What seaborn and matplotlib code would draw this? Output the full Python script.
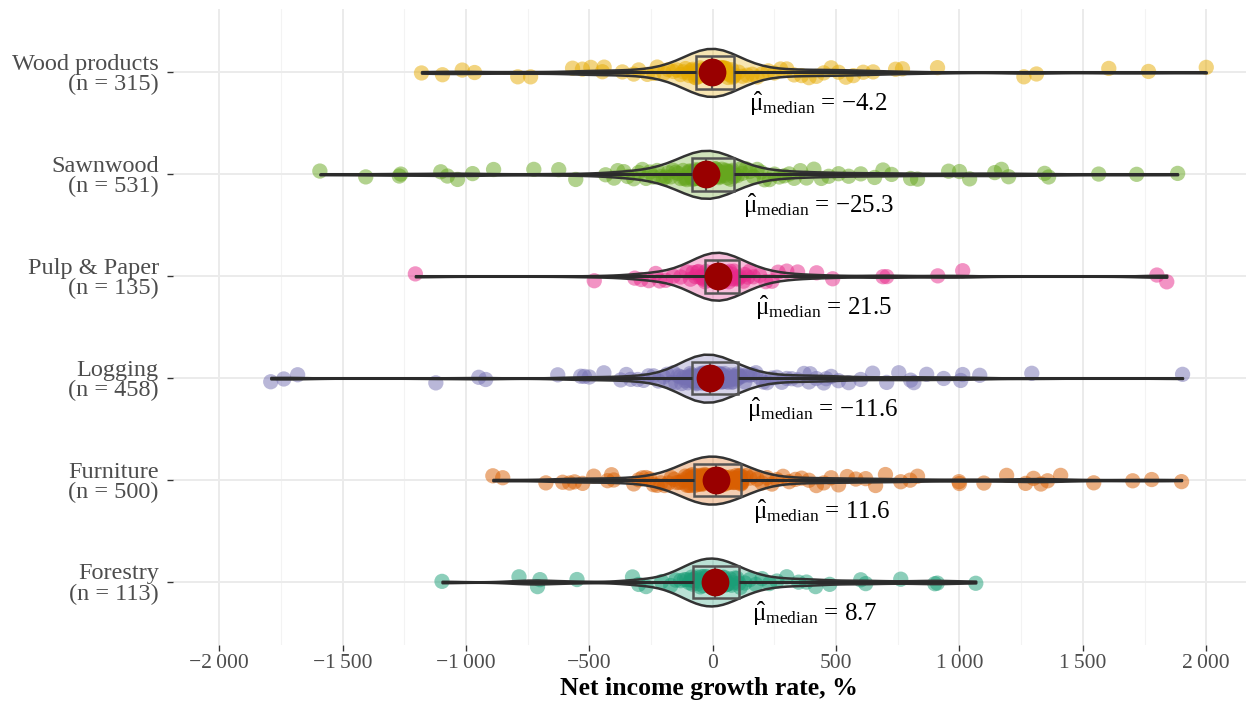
import numpy as np
import pandas as pd
import seaborn as sns
import matplotlib
matplotlib.use("Agg")
import matplotlib.pyplot as plt
from matplotlib.colors import to_rgba
from matplotlib.ticker import FuncFormatter, MultipleLocator

# ---------------- data ----------------
categories = ["Wood products", "Sawnwood", "Pulp & Paper", "Logging", "Furniture", "Forestry"]
n_labels = [315, 531, 135, 458, 500, 113]
medians = [-4.2, -25.3, 21.5, -11.6, 11.6, 8.7]
colors = ["#E6AB02", "#66A61E", "#E7298A", "#7570B3", "#D95F02", "#1B9E77"]

wood = [-1180, -1095, -1015, -965, -790, -738, -568, -528, -494, -447, -440, -366, -320, -300, -265,
        -238, -225, -197, -180, -160, -145, -130, -120, -110, -100, -95, -88, -80, -75, -72,
        -68, -64, -60, -57, -54, -51, -48, -45, -42, -39, -36, -33, -30, -27, -24, -21, -18, -15,
        -13, -11, -9, -8, -7, -6.5, -6, -5.5, -5, -4.8, -4.5, -4.3,
        -4.1, -3.5, -2, 0, 2, 4, 7, 10, 13, 16, 19, 22, 25, 28, 31, 34, 37, 40, 43, 46, 50, 54,
        58, 62, 66, 70, 74, 78, 81, 84,
        88, 105, 120, 140, 160, 180, 200, 225, 250, 275, 300, 330, 360, 390, 420, 450, 480, 510,
        540, 570, 610, 650, 741, 769, 911, 1261, 1312, 1605, 1766, 2000]

sawnwood = [-1592, -1406, -1270, -1264, -1102, -1075, -1034, -973, -888, -725, -624, -555, -434,
            -400, -385, -360, -345, -320, -300, -285, -270, -255, -240, -225, -210, -200, -190,
            -180, -170, -160, -150, -140, -130, -120, -115, -110, -105, -100, -95, -90,
            -84, -82, -80, -78, -76, -74, -72, -70, -68, -66, -64, -62, -60, -58, -56, -54, -52,
            -50, -48, -46, -44, -42, -40, -39, -38, -37, -36, -35, -34, -33, -32, -31, -30, -29,
            -28, -27.5, -27, -26.5, -26, -25.5,
            -25.1, -24, -22, -20, -18, -16, -14, -12, -10, -8, -6, -4, -2, 0, 2, 4, 6, 8, 10, 13,
            16, 19, 22, 25, 28, 31, 34, 37, 40, 44, 48, 52, 56, 60, 64, 68, 72, 76, 80, 84,
            90, 100, 110, 120, 135, 150, 165, 180, 195, 210, 230, 250, 270, 290, 310, 330, 355,
            380, 410, 440, 470, 510, 551, 600, 656, 690, 725, 802, 830, 956, 1000, 1041, 1143,
            1170, 1199, 1345, 1361, 1564, 1718, 1884]

pulp = [-1205, -480, -316, -290, -259, -231, -215, -190, -160, -130, -105, -90, -80, -70, -62,
        -57, -50, -45, -40, -35,
        -31, -28, -25, -22, -19, -16, -13, -10, -7, -4, -1, 2, 5, 8, 11, 14, 16, 18, 20, 21,
        22, 24, 27, 30, 33, 36, 40, 44, 48, 52, 56, 60, 65, 70, 75, 80, 86, 92, 98, 103,
        110, 125, 130, 142, 150, 165, 190, 215, 240, 265, 300, 344, 421, 486, 690, 705, 912,
        1013, 1800, 1840]

logging_ = [-1791, -1738, -1682, -1122, -948, -920, -628, -535, -520, -500, -441, -373, -350,
            -332, -304, -280, -260, -240, -220, -199, -185, -170, -160, -150, -140, -132, -125,
            -118, -112, -106, -100, -97, -94, -91, -89, -88, -87, -86, -86, -85.5,
            -84, -82, -80, -78, -76, -74, -72, -70, -68, -66, -64, -62, -60, -58, -56, -54, -52,
            -50, -48, -46, -44, -42, -40, -38, -36, -34, -32, -30, -28, -26, -24, -22, -20, -18,
            -16, -15, -14, -13, -12.5, -12,
            -11.2, -10, -8, -6, -4, -2, 0, 2, 4, 6, 8, 10, 12, 14, 16, 18, 20, 23, 26, 29, 32, 35,
            38, 41, 44, 47, 50, 54, 58, 62, 66, 70, 74, 78, 82, 86, 90, 94, 97, 100,
            102, 106, 112, 120, 130, 140, 150, 162, 175, 190, 205, 220, 240, 260, 280, 300, 320,
            345, 370, 390, 395, 420, 450, 460, 480, 510, 551, 600, 648, 705, 754, 802, 815, 867,
            936, 1005, 1013, 1082, 1293, 1904]

furniture = [-891, -851, -676, -608, -580, -560, -527, -482, -426, -410, -401, -320, -300, -285,
             -270, -255, -240, -225, -210, -195, -180, -168, -156, -145, -135, -126, -118, -111,
             -105, -100, -96, -92, -89, -86, -84, -82, -80, -79, -78, -77.5,
             -76, -74, -72, -70, -68, -66, -64, -62, -60, -58, -56, -54, -52, -50, -48, -46, -44,
             -42, -40, -38, -36, -34, -32, -30, -28, -26, -24, -22, -20, -17, -14, -11, -8, -5,
             -2, 1, 4, 7, 9, 11,
             12.2, 14, 17, 20, 23, 26, 29, 32, 35, 38, 41, 44, 47, 50, 53, 56, 59, 62, 65, 68, 71,
             74, 77, 80, 83, 86, 89, 92, 95, 98, 101, 104, 106, 108, 110, 112, 113, 114, 115, 116,
             118, 125, 135, 150, 165, 180, 200, 220, 240, 260, 285, 310, 335, 360, 390, 420, 450,
             480, 510, 545, 580, 620, 660, 700, 762, 800, 830, 998, 1000, 1099, 1191, 1268, 1300,
             1330, 1357, 1410, 1544, 1702, 1779, 1900]

forestry = [-1097, -785, -710, -700, -550, -325, -300, -270, -207, -170, -150, -130, -115, -105,
            -95, -90, -85, -82,
            -80, -75, -70, -65, -60, -55, -50, -45, -40, -35, -30, -25, -20, -15, -10, -4, 2, 8,
            9.4, 12, 16, 20, 25, 30, 35, 40, 46, 52, 58, 64, 70, 76, 82, 90, 98, 106,
            112, 130, 150, 175, 200, 230, 260, 300, 348, 380, 417, 474, 600, 620, 762, 900, 910,
            1066]

values = [wood, sawnwood, pulp, logging_, furniture, forestry]

# ---------------- build frame ----------------
df = pd.DataFrame({
    "cat": np.concatenate([[c] * len(v) for c, v in zip(categories, values)]),
    "value": np.concatenate(values),
})
pal = dict(zip(categories, colors))

sns.set_theme(style="white")
plt.rcParams["font.family"] = ["Liberation Serif", "DejaVu Serif"]
plt.rcParams["mathtext.fontset"] = "custom"
plt.rcParams["mathtext.rm"] = "Liberation Serif"
plt.rcParams["mathtext.it"] = "Liberation Serif:italic"
plt.rcParams["mathtext.bf"] = "Liberation Serif:bold"

fig, ax = plt.subplots(figsize=(12.52, 7.09), dpi=100)
fig.subplots_adjust(left=0.138, right=0.995, top=0.987, bottom=0.090)
ax.set_axisbelow(True)

# jittered points
np.random.seed(3)
sns.stripplot(data=df, x="value", y="cat", hue="cat", order=categories, palette=pal,
              jitter=0.055, size=11, alpha=0.5, linewidth=0, legend=False, ax=ax, zorder=2)

# violins
n_before = len(ax.collections)
sns.violinplot(data=df, x="value", y="cat", hue="cat", order=categories, palette=pal,
               cut=0, inner=None, width=0.47, density_norm="width", bw_adjust=0.55,
               linewidth=1.8, linecolor="#333333", legend=False, ax=ax, zorder=3)
for coll, c in zip(ax.collections[n_before:], colors):
    coll.set_facecolor(to_rgba(c, 0.3))
    coll.set_edgecolor("#333333")
    coll.set_zorder(3)

# boxes with whiskers spanning full range
sns.boxplot(data=df, x="value", y="cat", order=categories, width=0.32, whis=(0, 100),
            showcaps=False, fliersize=0, color="#555555",
            boxprops=dict(facecolor="none", edgecolor="#555555", linewidth=1.8, zorder=4),
            whiskerprops=dict(color="#2b2b2b", linewidth=2.2, zorder=4),
            medianprops=dict(color="#555555", linewidth=1.5, zorder=4),
            ax=ax)

# medians
sns.stripplot(x=medians, y=categories, order=categories, jitter=False, size=20,
              color="#990000", linewidth=0, ax=ax, zorder=6)

# annotations
for i, m in enumerate(medians):
    num = f"{m:.1f}".replace("-", "\u2212")
    ax.text(m + 150, i + 0.31,
            r"$\hat{\mathrm{\mu}}_{\mathrm{median}}$" + " = " + num,
            fontsize=18, color="black", ha="left", va="center", zorder=7)

# axes styling
ax.set_xlim(-2188, 2160)
ax.set_ylim(5.62, -0.62)
ax.xaxis.set_major_locator(MultipleLocator(500))
ax.xaxis.set_minor_locator(MultipleLocator(250))

def fmt(x, pos):
    s = f"{abs(int(round(x))):,}".replace(",", "\u2009")
    return ("\u2212" if x < 0 else "") + s

ax.xaxis.set_major_formatter(FuncFormatter(fmt))
ax.set_yticks(range(len(categories)))
ax.set_yticklabels([f"{c}\n(n = {n})" for c, n in zip(categories, n_labels)])
for lbl in ax.get_yticklabels():
    lbl.set_linespacing(0.95)
    lbl.set_multialignment("right")

ax.grid(True, which="major", axis="both", color="#EBEBEB", linewidth=1.4)
ax.grid(True, which="minor", axis="x", color="#F3F3F3", linewidth=0.8)
for s in ax.spines.values():
    s.set_visible(False)
ax.tick_params(axis="x", which="major", length=4, width=1, color="#333333",
               labelsize=15.5, labelcolor="#4D4D4D", pad=2, bottom=True)
ax.tick_params(axis="x", which="minor", length=0)
ax.tick_params(axis="y", length=4, width=1, color="#333333", labelsize=17.5,
               labelcolor="#4D4D4D", pad=6, left=True)
ax.set_ylabel("")
ax.set_xlabel("Net income growth rate, %", fontsize=18.5, fontweight="bold", color="black", labelpad=3)

fig.savefig("out.png", dpi=100, facecolor="white")
